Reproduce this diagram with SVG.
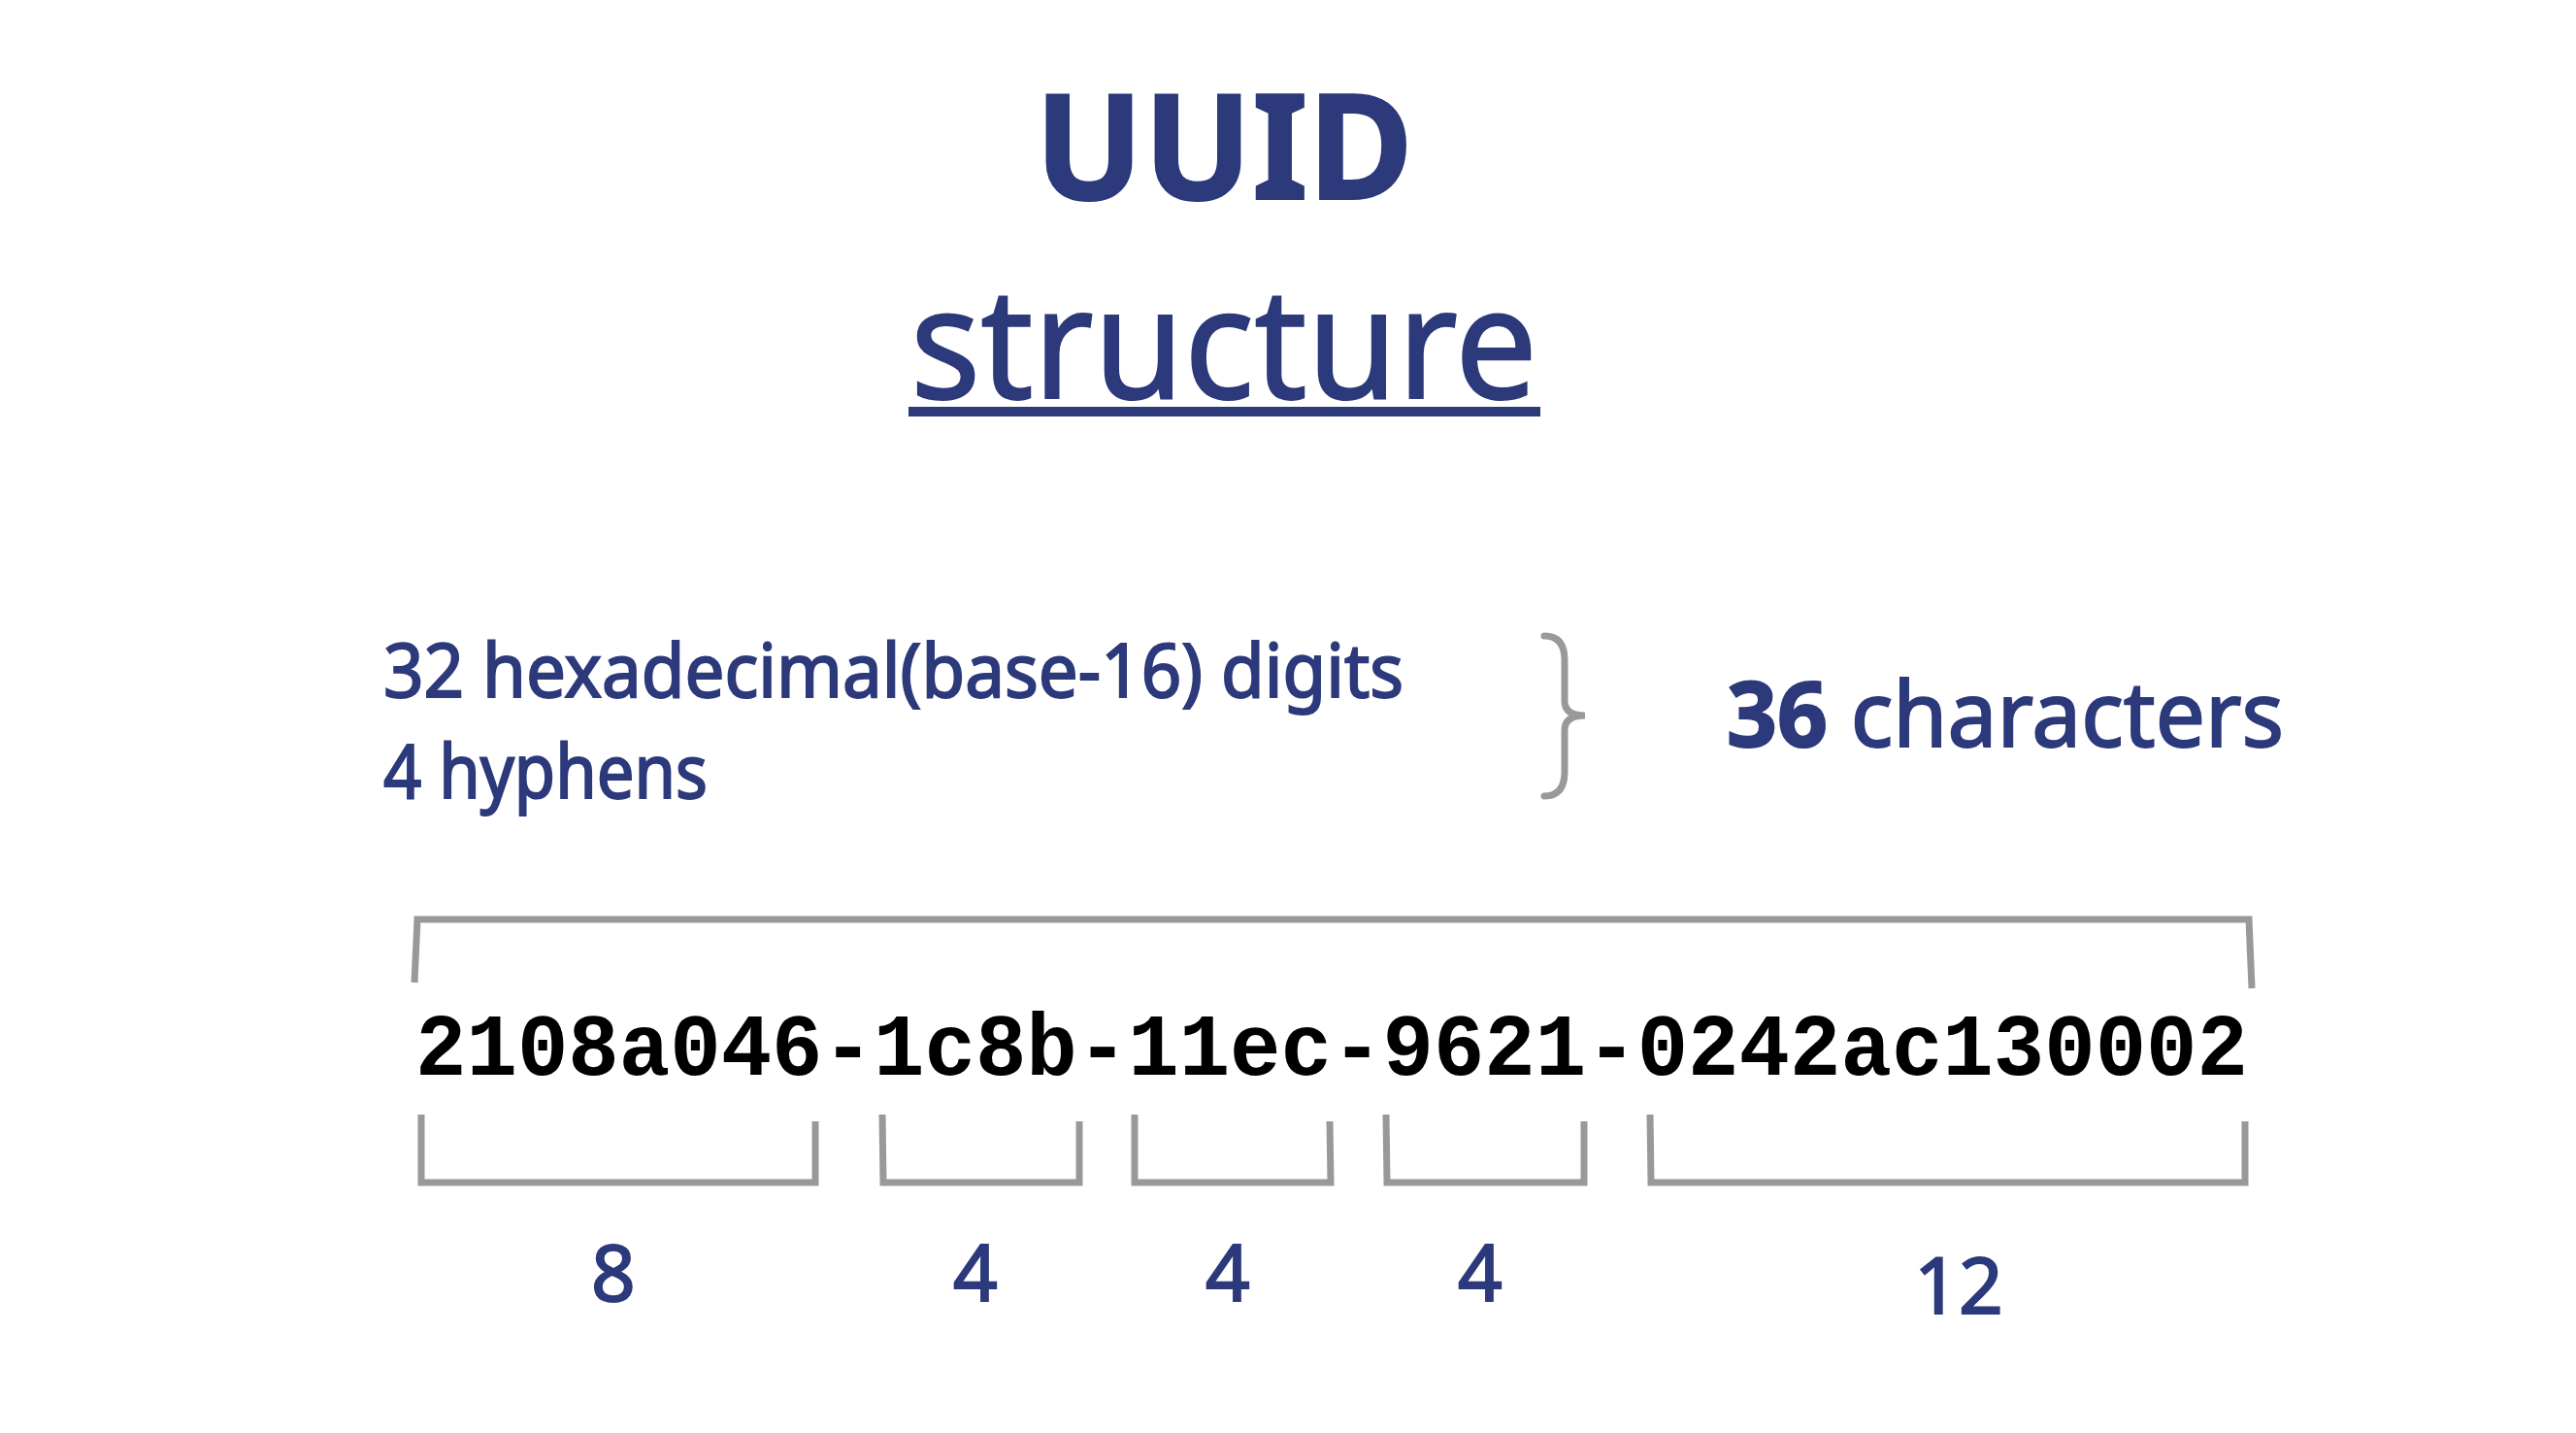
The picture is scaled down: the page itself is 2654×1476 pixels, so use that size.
<svg xmlns="http://www.w3.org/2000/svg" width="2654" height="1476" viewBox="0 0 2654 1476">
<style>
.t{fill:#2c397a;stroke:#2c397a;stroke-width:2;font-family:"Noto Sans","DejaVu Sans",sans-serif}
.br{fill:none;stroke:#999;stroke-width:7;stroke-linejoin:miter}
.num{fill:#2c397a;stroke:#2c397a;stroke-width:2;font-family:"Noto Sans","DejaVu Sans",sans-serif;font-size:80px;text-anchor:middle}
.code{fill:#000;font-family:"Liberation Mono","Courier New",monospace;font-weight:bold;font-size:90px}
</style>
<rect width="2654" height="1476" fill="#fff"/>
<g id="title">
<text class="t" x="1066" y="205" font-size="150" font-weight="bold" textLength="390" lengthAdjust="spacingAndGlyphs">UUID</text>
<text class="t" x="938" y="410" font-size="160" stroke-width="6" textLength="646" lengthAdjust="spacingAndGlyphs">structure</text>
<rect x="936" y="419" width="651" height="10" fill="#2c397a"/>
</g>
<g id="parts">
<text class="t" x="395" y="718" font-size="76" textLength="1051" lengthAdjust="spacingAndGlyphs">32 hexadecimal(base-16) digits</text>
<text class="t" x="395" y="822" font-size="76" textLength="334" lengthAdjust="spacingAndGlyphs">4 hyphens</text>
</g>
<g id="total">
<text class="t" x="1779" y="769" font-size="94" textLength="574" lengthAdjust="spacingAndGlyphs"><tspan font-weight="bold">36</tspan> characters</text>
</g>
<g id="uuid">
<text class="code" x="428" y="1107" textLength="1888" lengthAdjust="spacingAndGlyphs">2108a046-1c8b-11ec-9621-0242ac130002</text>
</g>
<g id="connectors">
<path class="br" stroke-linecap="round" d="M1591,655 Q1612,655 1612,680 L1612,722 Q1612,737 1633,737 Q1612,737 1612,752 L1612,795 Q1612,820 1591,820"/>
<path class="br" d="M427,1012 L430,947 L2317,947 L2320,1018"/>
<path class="br" d="M434,1148 L434,1218 L840,1218 L840,1155"/>
<path class="br" d="M909,1148 L910,1218 L1112,1218 L1112,1155"/>
<path class="br" d="M1169,1148 L1169,1218 L1371,1218 L1370,1155"/>
<path class="br" d="M1428,1148 L1429,1218 L1632,1218 L1632,1155"/>
<path class="br" d="M1700,1148 L1701,1218 L2313,1218 L2313,1155"/>
</g>
<g id="counts">
<text class="num" x="632" y="1340">8</text>
<text class="num" x="1005" y="1340">4</text>
<text class="num" x="1265" y="1340">4</text>
<text class="num" x="1525" y="1340">4</text>
<text class="num" x="2018" y="1353" font-size="76">12</text>
</g>
</svg>
